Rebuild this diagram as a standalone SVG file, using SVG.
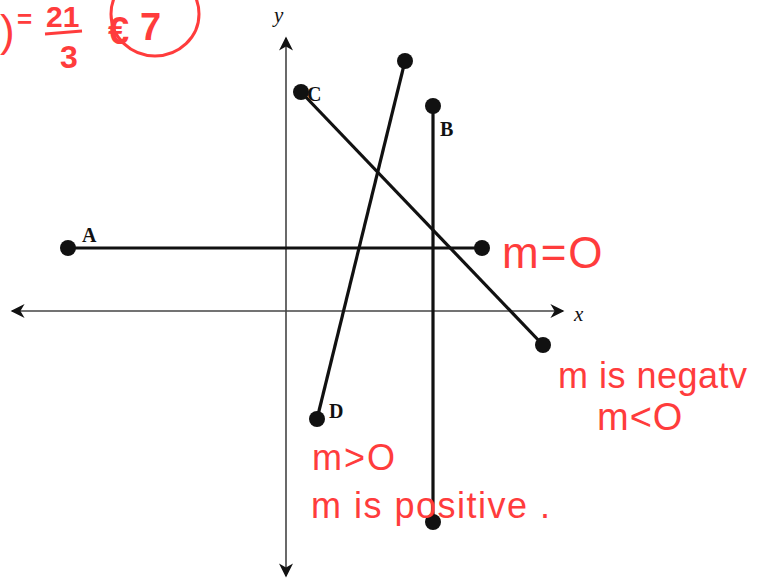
<svg xmlns="http://www.w3.org/2000/svg" width="766" height="581" viewBox="0 0 766 581">
<defs>
<style>
.axis{stroke:#444;stroke-width:1.6;fill:none}
.seg{stroke:#111;stroke-width:3.2;fill:none}
.dot{fill:#111}
.lbl{font-family:"Liberation Serif",serif;font-weight:bold;font-size:20px;fill:#111}
.ax{font-family:"Liberation Serif",serif;font-style:italic;font-size:21px;fill:#111}
.hw{font-family:"Liberation Sans",sans-serif;fill:#ff3c3c}
</style>
<marker id="ah" viewBox="0 0 10 10" refX="9" refY="5" markerWidth="16" markerHeight="14" markerUnits="userSpaceOnUse" orient="auto-start-reverse">
<path d="M0,0 L10,5 L0,10 L3,5 Z" fill="#111"/>
</marker>
</defs>
<rect width="766" height="581" fill="#fff"/>
<g id="axes">
<line class="axis" x1="286" y1="576" x2="286" y2="38" marker-end="url(#ah)" marker-start="url(#ah)"/>
<line class="axis" x1="12" y1="311" x2="563" y2="311" marker-end="url(#ah)" marker-start="url(#ah)"/>
<text class="ax" x="274" y="22">y</text>
<text class="ax" x="574" y="321">x</text>
</g>
<g id="connectors">
<line class="seg" x1="68" y1="248" x2="482" y2="248"/>
<line class="seg" x1="301" y1="92" x2="543" y2="345"/>
<line class="seg" x1="405" y1="61" x2="317" y2="419"/>
<line class="seg" x1="433" y1="106" x2="433" y2="522"/>
</g>
<g id="A"><circle class="dot" cx="68" cy="248" r="8"/><circle class="dot" cx="482" cy="248" r="8"/><text class="lbl" x="82" y="242">A</text></g>
<g id="C"><circle class="dot" cx="301" cy="92" r="8"/><circle class="dot" cx="543" cy="345" r="8"/><text class="lbl" x="307" y="101">C</text></g>
<g id="D"><circle class="dot" cx="405" cy="61" r="8"/><circle class="dot" cx="317" cy="419" r="8"/><text class="lbl" x="329" y="418">D</text></g>
<g id="B"><circle class="dot" cx="433" cy="106" r="8"/><circle class="dot" cx="433" cy="522" r="8"/><text class="lbl" x="440" y="136">B</text></g>
<g id="notes">
<text class="hw" x="0" y="46" font-size="44">)</text>
<text class="hw" x="17" y="28" font-size="26" font-weight="bold">=</text>
<text class="hw" x="46" y="27" font-size="30" font-weight="bold">21</text>
<line x1="45" y1="34" x2="82" y2="31" stroke="#ff3c3c" stroke-width="3"/>
<text class="hw" x="60" y="68" font-size="32" font-weight="bold">3</text>
<ellipse cx="155" cy="14" rx="44" ry="42" fill="none" stroke="#ff3c3c" stroke-width="3"/>
<text class="hw" x="108" y="44" font-size="38" font-weight="bold">€</text>
<text class="hw" x="140" y="40" font-size="38" font-weight="bold">7</text>
<text class="hw" x="502" y="268" font-size="44" letter-spacing="2">m=O</text>
<text class="hw" x="558" y="388" font-size="36" letter-spacing="0.5">m is negatv</text>
<text class="hw" x="597" y="430" font-size="38" letter-spacing="1">m&lt;O</text>
<text class="hw" x="312" y="470" font-size="36" letter-spacing="2">m&gt;O</text>
<text class="hw" x="311" y="518" font-size="36" letter-spacing="1.5">m is positive .</text>
</g>
</svg>
